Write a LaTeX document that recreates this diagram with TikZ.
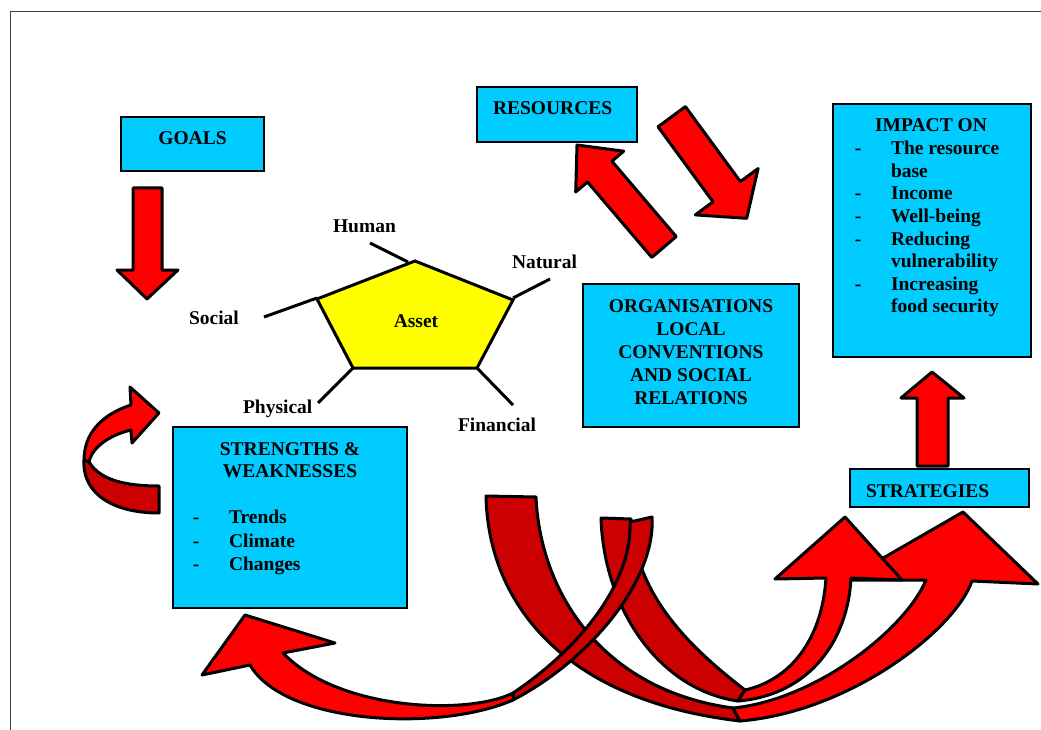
\documentclass[tikz,border=0pt]{standalone}
\usepackage{fontspec}
\setmainfont{Liberation Serif}
\definecolor{boxblue}{HTML}{00CCFF}
\definecolor{arrred}{HTML}{FF0000}
\definecolor{darkred}{HTML}{CC0000}
\definecolor{pentyellow}{HTML}{FFFF00}
\tikzset{
 box/.style={draw=black, fill=boxblue, line width=2.5pt, anchor=north west, inner sep=0pt, outer sep=0pt},
 txt/.style={font=\fontsize{19.5}{22.6}\selectfont\bfseries, inner sep=0pt, outer sep=0pt, anchor=base},
 txtl/.style={txt, anchor=base west},
 redarrow/.style={draw=black, fill=arrred, line width=3pt, line join=round},
 darkarrow/.style={draw=black, fill=darkred, line width=3pt, line join=round},
 spoke/.style={line width=3pt, draw=black},
 frameline/.style={line width=1.5pt, draw=black!75}
}
\begin{document}
\begin{tikzpicture}[x=1pt,y=-1pt]
\useasboundingbox (0,0) rectangle (1041,730);
\fill[white] (0,0) rectangle (1041,730);
% frame
\draw[frameline] (10.5,730) -- (10.5,11.5) -- (1041,11.5);

% boxes
\node[box, minimum width=143pt, minimum height=54pt] (goals) at (121,117) {};
\node[box, minimum width=160pt, minimum height=55pt] (resources) at (477,87) {};
\node[box, minimum width=198pt, minimum height=253pt] (impact) at (833,104) {};
\node[box, minimum width=216pt, minimum height=143pt] (org) at (583,284) {};
\node[box, minimum width=234pt, minimum height=181pt] (strengths) at (173,427) {};
\node[box, minimum width=179pt, minimum height=38pt] (strategies) at (850,469) {};

% box texts
\node[txt] (tgoals) at (192.5,145) {GOALS};
\node[txtl] (tres) at (493,115) {RESOURCES};
\node[txtl] (tstrat) at (866,497) {STRATEGIES};
\node[txt] (timp) at (931,132) {IMPACT ON};
\foreach \y/\d/\t [count=\i] in {154.6/-/The resource, 177.2//base, 199.8/-/Income, 222.4/-/Well-being, 245/-/Reducing, 267.6//vulnerability, 290.2/-/Increasing, 312.8//food security}{
  \node[txt] (impd\i) at (858,\y) {\d};
  \node[txtl] (impt\i) at (891,\y) {\t};
}
\foreach \y/\t [count=\i] in {312/ORGANISATIONS, 335/LOCAL, 358/CONVENTIONS, 381/AND SOCIAL, 404/RELATIONS}{
  \node[txt] (orgt\i) at (691,\y) {\t};
}
\node[txt] (sw1) at (290,455) {STRENGTHS \&};
\node[txt] (sw2) at (290,477) {WEAKNESSES};
\foreach \y/\t [count=\i] in {523/Trends, 547/Climate, 570/Changes}{
  \node[txt] (swd\i) at (196,\y) {-};
  \node[txtl] (swt\i) at (229,\y) {\t};
}

% pentagon
\coordinate (pTop) at (415,261);
\coordinate (pRight) at (513,300);
\coordinate (pBR) at (477,368);
\coordinate (pBL) at (353,368);
\coordinate (pLeft) at (317,299);
\draw[fill=pentyellow, line width=3pt, line join=miter] (pTop) -- (pRight) -- (pBR) -- (pBL) -- (pLeft) -- cycle;
\node[txt] (asset) at (416,327) {Asset};
% spokes
\coordinate (sHuman) at (370,243);
\coordinate (sNatural) at (550,279);
\coordinate (sSocial) at (264,317);
\coordinate (sPhysical) at (318,403);
\coordinate (sFinancial) at (513,405);
\draw[spoke] (sHuman) -- (408,262);
\draw[spoke] (513,298) -- (sNatural);
\draw[spoke] (sSocial) -- (317,298);
\draw[spoke] (pBL) -- (sPhysical);
\draw[spoke] (pBR) -- (sFinancial);
\node[txtl] (lHuman) at (333,233) {Human};
\node[txtl] (lNatural) at (512,268) {Natural};
\node[txtl] (lSocial) at (189,324) {Social};
\node[txtl] (lPhysical) at (243,413) {Physical};
\node[txtl] (lFinancial) at (458,431) {Financial};

% straight arrows
\draw[redarrow] (133,188) -- (162,188) -- (162,270) -- (178,270) -- (147,299) -- (117,270) -- (133,270) -- cycle;
\draw[redarrow] (917,466) -- (948,466) -- (948,398) -- (964,398) -- (932,372) -- (901,398) -- (917,398) -- cycle;
\draw[redarrow] (676.2,236.6) -- (611.9,161.2) -- (623.7,151.2) -- (577,145) -- (575.7,192) -- (587.5,182) -- (651.8,257.4) -- cycle;
\draw[redarrow] (685.4,106.6) -- (740.4,181.6) -- (758.1,168.5) -- (746.7,218.3) -- (695.3,214.9) -- (713,201.8) -- (658,126.8) -- cycle;

% U-turn arrow (left)
\draw[darkarrow] (84,460) -- (89,462) .. controls (100,480) and (125,486) .. (159,486) -- (159,513) .. controls (115,513) and (82,495) .. (84,460) -- cycle;
\draw[redarrow] (84,460) .. controls (84,435) and (100,415) .. (131,405) -- (130,387) -- (159,413) -- (132,443) -- (131,430) .. controls (110,435) and (92,447) .. (89,462) -- cycle;

% big curved arrow A
\draw[darkarrow] (486,496) -- (536,497) .. controls (540,590) and (600,690) .. (733,708) -- (740,721) .. controls (560,700) and (488,600) .. (486,496) -- cycle;
\draw[redarrow] (733,708) .. controls (815,700) and (905,630) .. (926,580) -- (845,580) -- (963,512) -- (1038,584) -- (972,581) .. controls (955,630) and (850,712) .. (740,721) -- cycle;

% curved arrow B
\draw[darkarrow] (601,518) -- (631,519) .. controls (636,590) and (680,640) .. (745,690) -- (738,701) .. controls (660,690) and (604,610) .. (601,518) -- cycle;
\draw[redarrow] (745,690) .. controls (790,680) and (822,640) .. (826,578) -- (775,579) -- (845,517) -- (902,580) -- (851,578) .. controls (848,640) and (810,695) .. (738,701) -- cycle;

% curved arrow C (to strengths)
\draw[darkarrow] (630,522) -- (652,517) .. controls (656,580) and (590,660) .. (513,700) -- (513,693) .. controls (570,655) and (632,590) .. (630,522) -- cycle;
\draw[redarrow] (513,693) .. controls (470,715) and (340,712) .. (283,653) -- (335,643) -- (245,615) -- (202,675) -- (250,665) .. controls (285,725) and (440,732) .. (513,700) -- cycle;
\end{tikzpicture}
\end{document}
